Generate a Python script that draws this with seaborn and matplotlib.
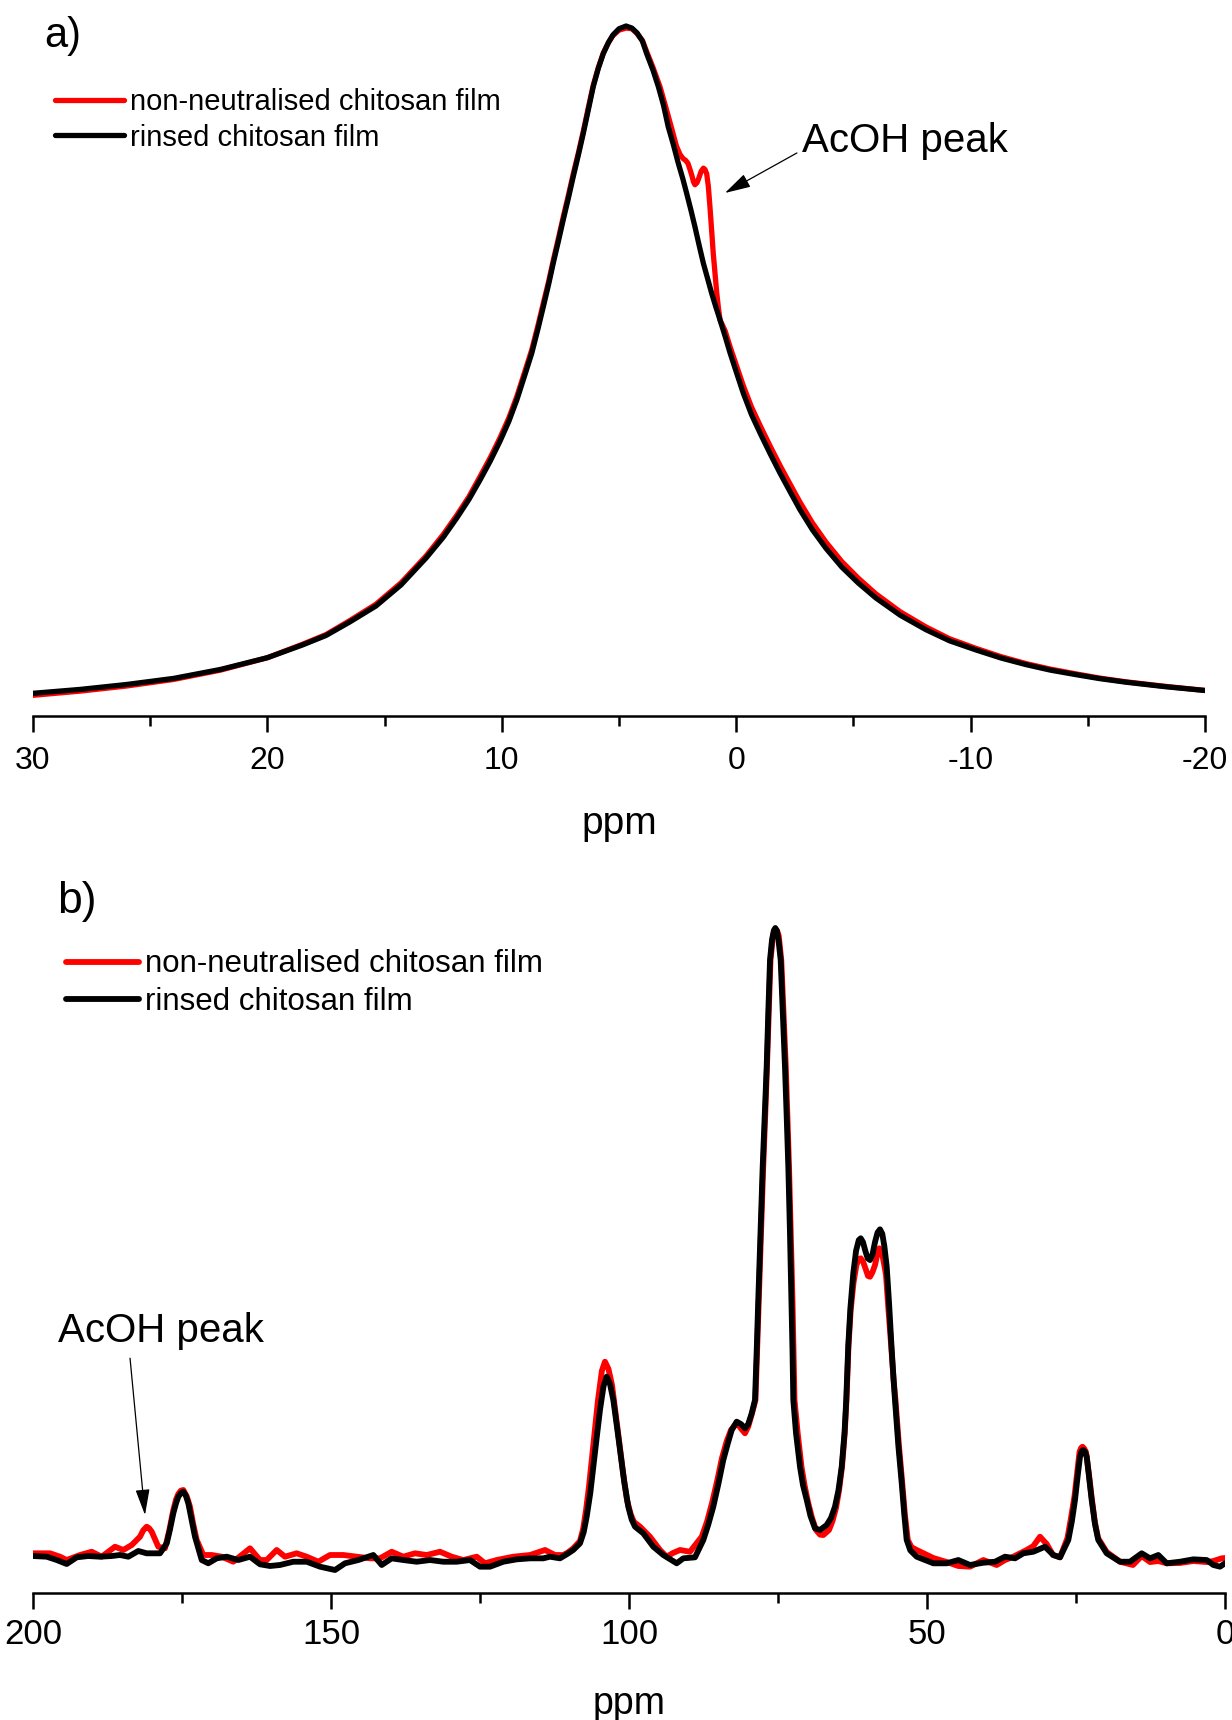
import matplotlib
matplotlib.use("Agg")
import matplotlib.pyplot as plt
from matplotlib.ticker import MultipleLocator
import pandas as pd
import seaborn as sns

# ---------------- 1H spectra (panel a) ----------------
ppm_a_red = [30.0, 28.0, 26.0, 24.0, 22.0, 20.0, 18.5, 17.5, 16.5, 15.37,
             14.3, 13.23, 12.5, 11.92, 11.4, 10.93, 10.5, 10.08, 9.7, 9.36,
             9.0, 8.72, 8.45, 8.23, 8.0, 7.80, 7.58, 7.38, 7.15, 6.95,
             6.72, 6.52, 6.30, 6.10, 5.88, 5.67, 5.45, 5.26, 5.0, 4.70,
             4.45, 4.23, 4.0, 3.82, 3.55, 3.25, 3.0, 2.74, 2.55, 2.40,
             2.27, 2.15, 2.06, 1.97, 1.89, 1.82, 1.76, 1.67, 1.59, 1.50,
             1.40, 1.33, 1.26, 1.19, 1.12, 1.05, 0.98, 0.90, 0.83, 0.76,
             0.69, 0.47, 0.26, 0.0, -0.30, -0.65, -1.02, -1.45, -1.87, -2.3,
             -2.72, -3.25, -3.83, -4.5, -5.2, -5.96, -7.0, -8.10, -9.1, -10.23,
             -11.3, -12.36, -13.4, -14.50, -15.5, -16.63, -18.3, -20.0]
int_a_red = [3.0, 3.6, 4.35, 5.3, 6.65, 8.45, 10.4, 11.8, 13.8, 16.2,
             19.3, 23.2, 26.3, 29.1, 31.8, 34.7, 37.4, 40.3, 43.2, 46.3,
             50.1, 53.1, 56.7, 59.8, 63.0, 66.1, 69.3, 72.3, 75.6, 78.6,
             81.8, 84.8, 88.3, 91.4, 94.0, 96.1, 97.6, 98.6, 99.4, 99.7,
             99.6, 98.9, 97.9, 96.3, 94.0, 91.2, 88.2, 85.0, 82.6, 81.4,
             80.8, 80.5, 80.1, 79.2, 78.3, 77.4, 77.0, 77.3, 78.0, 78.9,
             79.4, 79.2, 78.6, 76.8, 73.8, 70.5, 67.1, 64.0, 61.3, 59.2,
             57.4, 55.8, 53.5, 50.9, 47.9, 44.8, 42.1, 39.1, 36.3, 33.6,
             31.0, 28.0, 25.2, 22.4, 20.0, 17.7, 15.1, 12.9, 11.2, 9.8,
             8.6, 7.6, 6.8, 6.1, 5.5, 4.95, 4.3, 3.7]

ppm_a_black = [30.0, 28.0, 26.0, 24.0, 22.0, 20.0, 18.5, 17.5, 16.5, 15.37,
               14.3, 13.23, 12.5, 11.92, 11.4, 10.93, 10.5, 10.08, 9.7, 9.36,
               9.0, 8.72, 8.45, 8.23, 8.0, 7.80, 7.58, 7.38, 7.15, 6.95,
               6.72, 6.52, 6.30, 6.10, 5.88, 5.67, 5.45, 5.26, 5.0, 4.70,
               4.45, 4.23, 4.0, 3.82, 3.55, 3.32, 3.1, 2.90, 2.68, 2.47,
               2.28, 2.11, 1.93, 1.76, 1.58, 1.40, 1.22, 1.05, 0.87, 0.69,
               0.47, 0.26, 0.0, -0.30, -0.65, -1.02, -1.45, -1.87, -2.3, -2.72,
               -3.25, -3.83, -4.5, -5.2, -5.96, -7.0, -8.10, -9.1, -10.23, -11.3,
               -12.36, -13.4, -14.50, -15.5, -16.63, -18.3, -20.0]
int_a_black = [3.29, 3.85, 4.57, 5.45, 6.75, 8.45, 10.3, 11.67, 13.6, 15.94,
               19.0, 22.9, 25.9, 28.7, 31.4, 34.2, 36.9, 39.8, 42.7, 45.8,
               49.6, 52.6, 56.2, 59.3, 62.6, 65.7, 68.9, 71.9, 75.2, 78.2,
               81.5, 84.5, 88.0, 91.2, 93.9, 96.0, 97.6, 98.7, 99.6, 100.0,
               99.7, 99.0, 97.8, 96.0, 93.6, 91.2, 88.5, 85.4, 82.8, 80.1,
               77.9, 75.7, 73.3, 70.9, 68.2, 65.6, 63.4, 61.3, 59.3, 57.4,
               55.0, 52.6, 49.9, 46.8, 43.7, 41.0, 38.0, 35.2, 32.5, 29.9,
               27.0, 24.3, 21.6, 19.3, 17.1, 14.6, 12.5, 10.9, 9.57, 8.4,
               7.45, 6.65, 5.99, 5.42, 4.90, 4.25, 3.70]

# ---------------- 13C spectra (panel b) ----------------
ppm_b_red = [200.0, 197.15, 195.47, 194.35, 192.11, 190.15, 188.47, 186.24, 184.85, 183.44,
             182.05, 181.5, 180.92, 180.5, 180.08, 179.5, 178.98, 177.85, 177.15, 176.46,
             176.0, 175.62, 175.2, 174.78, 174.2, 173.66, 173.1, 172.53, 171.43, 170.02,
             168.34, 166.39, 164.98, 163.59, 161.91, 160.79, 159.11, 157.72, 155.76, 154.08,
             152.13, 150.17, 147.94, 145.69, 143.46, 141.78, 139.82, 137.87, 135.91, 133.94,
             131.71, 129.75, 127.80, 125.55, 124.16, 122.20, 119.41, 116.61, 114.09, 112.42,
             111.02, 110.2, 109.35, 108.22, 107.7, 107.21, 106.7, 106.21, 105.7, 105.20,
             104.55, 104.03, 103.45, 102.85, 102.25, 101.68, 101.0, 100.34, 99.7, 99.16,
             98.15, 96.48, 94.80, 93.68, 92.62, 91.44, 89.77, 87.80, 86.9, 86.07,
             85.2, 84.40, 83.6, 82.89, 81.93, 81.2, 80.54, 80.0, 79.36, 78.78,
             78.50, 78.22, 77.85, 77.48, 77.15, 76.85, 76.55, 76.26, 75.84, 75.60,
             75.37, 75.12, 74.87, 74.45, 74.07, 73.69, 73.42, 73.15, 72.86, 72.57,
             72.40, 72.23, 71.70, 71.06, 70.55, 69.97, 69.3, 68.62, 67.95, 67.40,
             66.44, 65.85, 65.27, 64.75, 64.26, 63.80, 63.51, 63.17, 62.80, 62.33,
             61.85, 61.45, 61.12, 60.7, 60.23, 59.90, 59.56, 59.15, 58.72, 58.35,
             58.00, 57.6, 57.20, 56.88, 56.45, 55.96, 55.6, 55.29, 54.7, 54.15,
             53.7, 53.22, 52.6, 51.73, 48.94, 46.69, 44.75, 42.79, 40.55, 38.31,
             36.91, 35.52, 33.27, 32.16, 31.04, 29.92, 28.86, 27.68, 26.43, 25.85,
             25.25, 24.8, 24.41, 24.15, 23.91, 23.62, 23.32, 22.85, 22.40, 21.85,
             21.31, 19.85, 17.62, 15.44, 13.98, 12.58, 11.19, 9.78, 7.55, 5.32,
             3.07, 1.96, 0.55, 0.0]
int_b_red = [0.43, 0.43, -0.11, -0.64, 0.16, 0.68, -0.11, 1.48, 0.96, 1.75,
             3.07, 4.1, 4.67, 4.4, 3.87, 2.6, 1.48, 1.23, 4.0, 7.32,
             9.0, 9.87, 10.4, 10.51, 9.5, 7.85, 5.0, 2.55, 0.16, 0.16,
             -0.11, -0.91, 0.16, 1.23, -0.64, -0.64, 0.96, -0.11, 0.43, -0.11,
             -0.91, 0.16, 0.16, -0.11, -0.37, -0.37, 0.68, -0.11, 0.43, 0.16,
             0.68, -0.11, -0.64, -0.11, -1.16, -0.64, -0.11, 0.16, 0.96, 0.16,
             0.16, 0.6, 1.23, 2.39, 4.3, 7.32, 11.2, 15.61, 20.3, 24.84,
             29.5, 30.94, 29.8, 27.23, 22.8, 18.47, 13.3, 8.92, 6.6, 5.41,
             4.67, 3.07, 0.96, -0.11, 0.48, 0.96, 0.68, 3.07, 5.5, 8.44,
             12.0, 15.61, 18.3, 20.06, 21.18, 20.3, 19.54, 20.6, 22.72, 24.84,
             32.8, 40.76, 51.4, 61.99, 69.95, 77.91, 86.5, 94.90, 98.73, 99.5,
             99.68, 99.5, 98.73, 94.90, 86.5, 77.91, 69.95, 61.99, 51.4, 40.76,
             32.8, 24.84, 19.6, 14.22, 11.3, 8.60, 6.1, 4.14, 3.4, 3.34,
             4.14, 5.6, 7.64, 10.5, 14.22, 19.6, 24.84, 33.5, 39.2, 43.5,
             46.3, 47.3, 47.40, 46.8, 45.54, 44.6, 44.47, 45.2, 46.34, 48.0,
             49.0, 48.5, 46.5, 44.75, 39.0, 32.80, 28.0, 24.84, 17.5, 11.58,
             6.5, 2.55, 1.4, 0.96, -0.32, -0.96, -1.59, -1.70, -0.64, -1.43,
             -0.64, -0.11, 0.96, 1.59, 3.07, 1.91, 0.16, -0.21, 2.87, 6.0,
             9.55, 13.3, 16.56, 17.2, 17.40, 17.1, 16.56, 13.2, 9.55, 5.5,
             2.87, 0.64, -0.91, -1.43, 0.0, -0.96, -0.80, -1.16, -1.11, -0.80,
             -0.96, -0.80, -0.37, -0.32]

ppm_b_black = [200.0, 197.70, 196.02, 194.35, 192.67, 190.72, 188.76, 186.80, 185.40, 184.01,
               182.33, 180.92, 178.69, 177.56, 177.0, 176.46, 176.0, 175.62, 175.2, 174.78,
               174.35, 173.94, 173.4, 172.82, 171.69, 170.59, 169.18, 167.50, 165.55, 163.59,
               161.91, 160.23, 158.56, 156.33, 154.08, 151.85, 149.33, 147.65, 145.42, 142.90,
               141.49, 139.82, 137.87, 135.62, 133.39, 131.16, 128.91, 126.68, 125.00, 123.32,
               121.09, 118.84, 116.61, 114.38, 113.26, 111.58, 110.4, 109.35, 108.22, 107.6,
               107.10, 106.5, 105.99, 105.4, 104.87, 104.27, 103.74, 103.19, 102.63, 102.05,
               101.51, 100.8, 100.12, 99.55, 98.99, 97.60, 95.92, 94.25, 92.00, 90.89,
               88.93, 87.53, 86.7, 85.86, 85.0, 84.18, 83.4, 82.77, 81.93, 81.2,
               80.54, 80.0, 79.41, 78.86, 78.57, 78.31, 77.94, 77.57, 77.23, 76.90,
               76.63, 76.34, 76.01, 75.70, 75.45, 75.20, 74.92, 74.55, 74.19, 73.83,
               73.54, 73.27, 72.99, 72.74, 72.57, 72.43, 71.98, 71.31, 70.81, 70.18,
               69.55, 68.79, 67.95, 66.83, 66.11, 65.44, 64.85, 64.31, 63.84, 63.55,
               63.21, 62.85, 62.37, 61.9, 61.45, 61.12, 60.75, 60.32, 59.95, 59.56,
               59.15, 58.72, 58.3, 57.89, 57.5, 57.15, 56.76, 56.35, 55.92, 55.6,
               55.37, 54.8, 54.24, 53.8, 53.41, 52.8, 51.73, 48.94, 46.69, 44.75,
               42.79, 40.55, 38.59, 36.91, 35.23, 33.84, 32.16, 30.20, 28.81, 27.68,
               26.29, 25.7, 25.17, 24.75, 24.33, 24.05, 23.78, 23.5, 23.20, 22.8,
               22.37, 21.8, 21.26, 19.85, 17.62, 15.94, 13.98, 12.58, 11.19, 9.78,
               7.55, 5.32, 3.07, 1.96, 0.84, 0.0]
int_b_black = [0.0, -0.11, -0.64, -1.27, -0.21, 0.0, -0.11, 0.0, 0.16, -0.11,
               0.80, 0.43, 0.43, 2.02, 4.3, 6.80, 8.4, 9.44, 10.0, 10.24,
               9.6, 8.39, 5.8, 3.07, -0.64, -1.16, -0.37, -0.11, -0.64, -0.11,
               -1.32, -1.59, -1.43, -0.91, -0.91, -1.70, -2.23, -1.16, -0.64, 0.16,
               -1.43, -0.37, -0.64, -0.91, -0.64, -0.91, -0.91, -0.64, -1.70, -1.70,
               -0.91, -0.53, -0.37, -0.37, -0.11, -0.37, 0.3, 0.96, 2.02, 3.8,
               6.26, 10.0, 14.22, 19.0, 23.25, 27.07, 28.55, 27.39, 24.84, 20.8,
               16.88, 11.8, 7.85, 5.8, 4.67, 3.61, 1.48, 0.16, -1.16, -0.37,
               -0.21, 2.55, 5.0, 7.85, 11.5, 15.29, 18.0, 20.06, 21.39, 21.0,
               20.33, 21.0, 22.72, 24.84, 32.8, 40.76, 51.4, 61.99, 69.95, 77.91,
               86.5, 94.90, 98.1, 99.6, 100.0, 99.6, 98.1, 94.90, 86.5, 77.91,
               69.95, 61.99, 51.4, 40.76, 32.8, 24.84, 19.6, 14.22, 11.3, 8.92,
               6.37, 4.41, 4.14, 4.94, 6.05, 7.85, 10.5, 14.22, 19.6, 24.84,
               33.5, 39.5, 45.0, 48.6, 50.3, 50.59, 50.0, 48.5, 47.4, 47.13,
               48.0, 50.0, 51.5, 52.02, 51.3, 49.3, 46.07, 40.0, 32.80, 28.0,
               24.84, 17.5, 11.58, 6.5, 2.55, 0.9, -0.11, -1.16, -1.16, -0.64,
               -1.43, -1.07, -0.91, -0.11, -0.37, 0.43, 0.68, 1.48, 0.16, -0.21,
               2.55, 5.5, 8.92, 12.5, 15.81, 16.7, 16.88, 16.6, 15.81, 12.5,
               8.92, 5.0, 2.55, 0.43, -0.91, -0.91, 0.43, -0.37, 0.16, -1.16,
               -0.91, -0.53, -0.64, -1.43, -1.70, -1.16]

series_labels = ["non-neutralised chitosan film", "rinsed chitosan film"]
series_colors = ["#ff0000", "#000000"]

sns.set_theme(style="ticks")
plt.rcParams["font.family"] = ["Liberation Sans", "DejaVu Sans"]
plt.rcParams.update({
    "axes.unicode_minus": False,
    "text.color": "black",
    "axes.labelcolor": "black",
    "axes.edgecolor": "black",
    "xtick.color": "black",
    "xtick.labelcolor": "black",
})

W, H = 1232, 1720
fig = plt.figure(figsize=(W / 100, H / 100), dpi=100)

ax_a = fig.add_axes([33 / W, 1 - 716 / H, (1205 - 33) / W, (716 - 16) / H])
ax_b = fig.add_axes([33 / W, 1 - 1593 / H, (1225 - 33) / W, (1593 - 900) / H])

df_a = [pd.DataFrame({"ppm": ppm_a_red, "I": int_a_red}),
        pd.DataFrame({"ppm": ppm_a_black, "I": int_a_black})]
df_b = [pd.DataFrame({"ppm": ppm_b_red, "I": int_b_red}),
        pd.DataFrame({"ppm": ppm_b_black, "I": int_b_black})]

for ax, frames, lw in ((ax_a, df_a, 3.8), (ax_b, df_b, 4.2)):
    for frame, lab, col in zip(frames, series_labels, series_colors):
        sns.lineplot(data=frame, x="ppm", y="I", color=col, label=lab, ax=ax,
                     sort=False, estimator=None, linewidth=lw,
                     solid_joinstyle="round", solid_capstyle="round")

ax_a.set_xlim(30, -20)
ax_a.set_ylim(0, 101.45)
ax_b.set_xlim(200, 0)
ax_b.set_ylim(-5.89, 104.46)

ax_a.xaxis.set_major_locator(MultipleLocator(10))
ax_a.xaxis.set_minor_locator(MultipleLocator(5))
ax_b.xaxis.set_major_locator(MultipleLocator(50))
ax_b.xaxis.set_minor_locator(MultipleLocator(25))

for ax, tsize, pad in ((ax_a, 23, 10), (ax_b, 25, 6.5)):
    sns.despine(ax=ax, left=True, top=True, right=True)
    ax.spines["bottom"].set_linewidth(1.8)
    ax.spines["bottom"].set_color("black")
    ax.set_yticks([])
    ax.set_ylabel("")
    ax.tick_params(axis="x", which="major", length=11.5, width=1.8, direction="out",
                   labelsize=tsize, pad=pad, colors="black")
    ax.tick_params(axis="x", which="minor", length=7.5, width=1.8, direction="out",
                   colors="black")
    ax.set_facecolor("white")

ax_a.set_xlabel("ppm", fontsize=28)
ax_a.xaxis.label.set_va("center")
ax_a.xaxis.set_label_coords(0.5, (716 - 823.5) / 700)
ax_b.set_xlabel("ppm", fontsize=27)
ax_b.xaxis.label.set_va("center")
ax_b.xaxis.set_label_coords(0.5, (1593 - 1703.5) / 693)

# legends
leg_a = ax_a.legend(loc="upper left", bbox_to_anchor=(55 / W, 1 - 88.5 / H),
                    bbox_transform=fig.transFigure, frameon=False, fontsize=21,
                    handlelength=2.36, handletextpad=0.2, labelspacing=0.24,
                    borderpad=0, borderaxespad=0)
leg_b = ax_b.legend(loc="upper left", bbox_to_anchor=(66 / W, 1 - 949.5 / H),
                    bbox_transform=fig.transFigure, frameon=False, fontsize=22.5,
                    handlelength=2.34, handletextpad=0.2, labelspacing=0.225,
                    borderpad=0, borderaxespad=0)
for leg, lw in ((leg_a, 3.8), (leg_b, 4.2)):
    for h in leg.get_lines():
        h.set_linewidth(lw)
        h.set_solid_capstyle("round")
    for t in leg.get_texts():
        t.set_color("black")

# peak annotations
arrow_kw = dict(arrowstyle="-|>,head_length=0.8,head_width=0.22", color="black",
                lw=0.9, shrinkA=0, shrinkB=0, mutation_scale=20)
ax_a.text(-2.81, 83.4, "AcOH peak", fontsize=29, ha="left", va="center")
ax_a.annotate("", xy=(0.48, 75.8), xytext=(-2.59, 81.6), arrowprops=arrow_kw)
ax_b.text(195.8, 35.9, "AcOH peak", fontsize=29, ha="left", va="center")
ax_b.annotate("", xy=(181.21, 6.53), xytext=(183.72, 31.5), arrowprops=arrow_kw)

fig.text(44 / W, 1 - 36 / H, "a)", fontsize=30, ha="left", va="center")
fig.text(57 / W, 1 - 901 / H, "b)", fontsize=32, ha="left", va="center")

fig.savefig("out.png", dpi=100, facecolor="white")
